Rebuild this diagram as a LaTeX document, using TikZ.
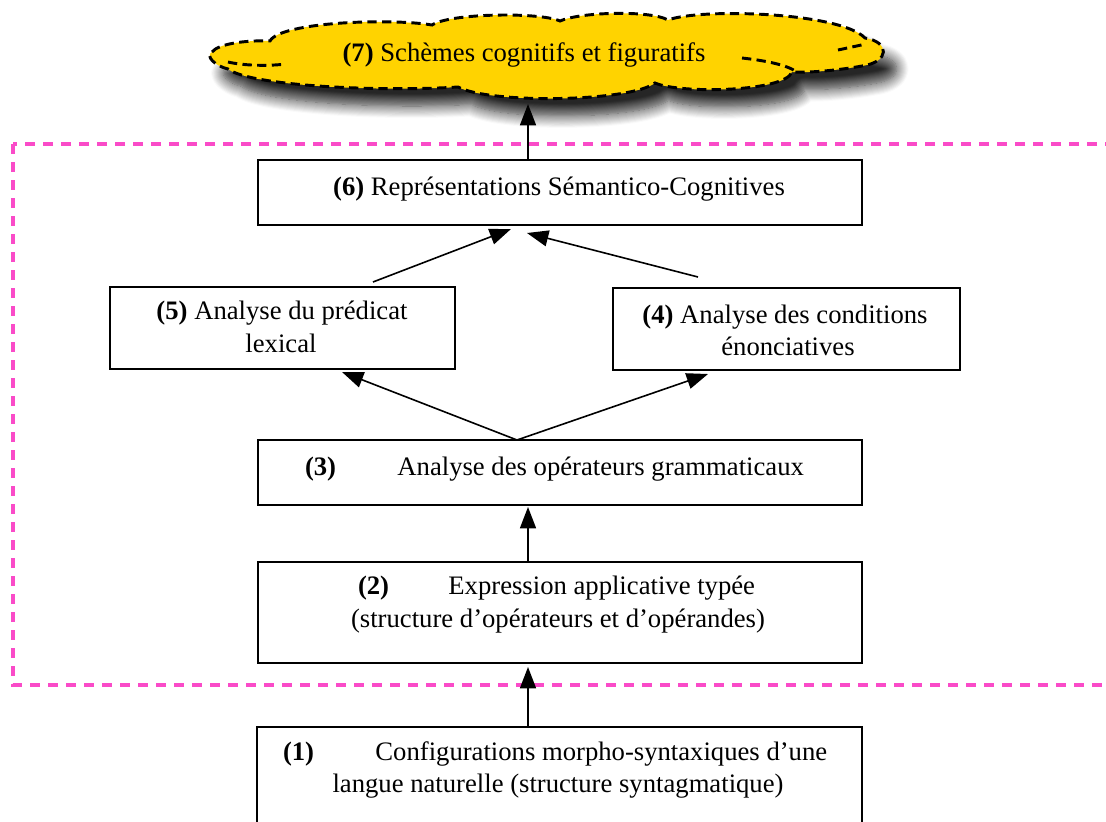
\documentclass[tikz,border=0pt]{standalone}
\usepackage{fontspec}
\setmainfont{Liberation Serif}
\usetikzlibrary{arrows.meta,shadows.blur}
\definecolor{cloudgold}{RGB}{255,211,0}
\definecolor{framepink}{RGB}{250,75,200}
\begin{document}
\begin{tikzpicture}[x=0.75pt,y=-0.75pt,
  box/.style={draw=black,line width=1.6pt,rectangle,inner sep=0pt,outer sep=0pt},
  txt/.style={inner sep=0pt,outer sep=0pt,font=\fontsize{20}{24}\selectfont},
  arr/.style={draw=black,line width=1.2pt,-{Triangle[length=16pt,width=12pt,fill=black]}},
  frame/.style={draw=framepink,line width=2.6pt,dash pattern=on 7.5pt off 6pt},
  cloudline/.style={draw=black,line width=2.2pt,dash pattern=on 7pt off 4pt}]
\useasboundingbox (0,0) rectangle (1106,821);

% dashed frame
\draw[frame] (13,144) rectangle (1130,685);

% cloud
\path[fill=cloudgold,cloudline,
  blur shadow={shadow xshift=10pt,shadow yshift=-13pt,shadow blur radius=9pt,shadow blur steps=12,shadow opacity=85}]
  (212,52)
  .. controls (218,44) and (245,40) .. (270,41)
  .. controls (280,22) and (390,18) .. (432,25)
  .. controls (450,13) and (540,12) .. (560,21)
  .. controls (580,12) and (650,10) .. (668,20)
  .. controls (700,8) and (840,12) .. (865,38)
  .. controls (890,42) and (890,62) .. (862,66)
  .. controls (840,70) and (810,73) .. (792,72)
  .. controls (785,92) and (680,94) .. (655,83)
  .. controls (630,102) and (490,104) .. (458,87)
  .. controls (380,92) and (250,86) .. (228,69)
  .. controls (215,66) and (205,56) .. (212,52) -- cycle;
\draw[cloudline] (228,62) .. controls (245,66) and (270,66) .. (286,64);
\draw[cloudline] (742,58) .. controls (760,60) and (785,64) .. (795,71);
\draw[cloudline] (838,50) -- (866,44);
\node[txt,anchor=base] (t7) at (524,61) {\textbf{(7)} Schèmes cognitifs et figuratifs};

% boxes
\node[box,minimum width=453pt,minimum height=48.75pt] (b6) at (560,192.5) {};
\node[box,minimum width=258.75pt,minimum height=61.5pt] (b5) at (282.5,328) {};
\node[box,minimum width=260.25pt,minimum height=61.5pt] (b4) at (786.5,329) {};
\node[box,minimum width=453pt,minimum height=48.75pt] (b3) at (560,472.5) {};
\node[box,minimum width=453pt,minimum height=75.75pt] (b2) at (560,612.5) {};
\node[box,minimum width=453.75pt,minimum height=94.5pt] (b1) at (559.5,790) {};

% texts
\node[txt,anchor=base] (t6) at (559,195) {\textbf{(6)} Représentations Sémantico-Cognitives};
\node[txt,anchor=base] (t5a) at (282,319) {\textbf{(5)} Analyse du prédicat};
\node[txt,anchor=base] (t5b) at (281,352) {lexical};
\node[txt,anchor=base] (t4a) at (785,323) {\textbf{(4)} Analyse des conditions};
\node[txt,anchor=base] (t4b) at (788,355) {énonciatives};
\node[txt,anchor=base west] (t3) at (305,475) {\textbf{(3)}\hspace{46pt}Analyse des opérateurs grammaticaux};
\node[txt,anchor=base west] (t2a) at (358,594) {\textbf{(2)}\hspace{44.5pt}Expression applicative typée};
\node[txt,anchor=base] (t2b) at (558,627) {(structure d’opérateurs et d’opérandes)};
\node[txt,anchor=base west] (t1a) at (283,760) {\textbf{(1)}\hspace{46pt}Configurations morpho-syntaxiques d’une};
\node[txt,anchor=base] (t1b) at (558,792) {langue naturelle (structure syntagmatique)};

% connectors
\coordinate (c7) at (528,104);
\draw[arr] (b6.north -| c7) -- (c7);
\coordinate (s5) at (373,282);
\coordinate (e5) at (511,229);
\draw[arr] (s5) -- (e5);
\coordinate (s4) at (698,277);
\coordinate (e4) at (527,233);
\draw[arr] (s4) -- (e4);
\coordinate (s3) at (517,440);
\coordinate (e35) at (342,372);
\coordinate (e34) at (708,374);
\draw[arr] (b3.north -| s3) -- (e35);
\draw[arr] (b3.north -| s3) -- (e34);
\coordinate (e23) at (528,507);
\draw[arr] (b2.north -| e23) -- (e23);
\coordinate (e12) at (528,667);
\draw[arr] (b1.north -| e12) -- (e12);
\end{tikzpicture}
\end{document}
